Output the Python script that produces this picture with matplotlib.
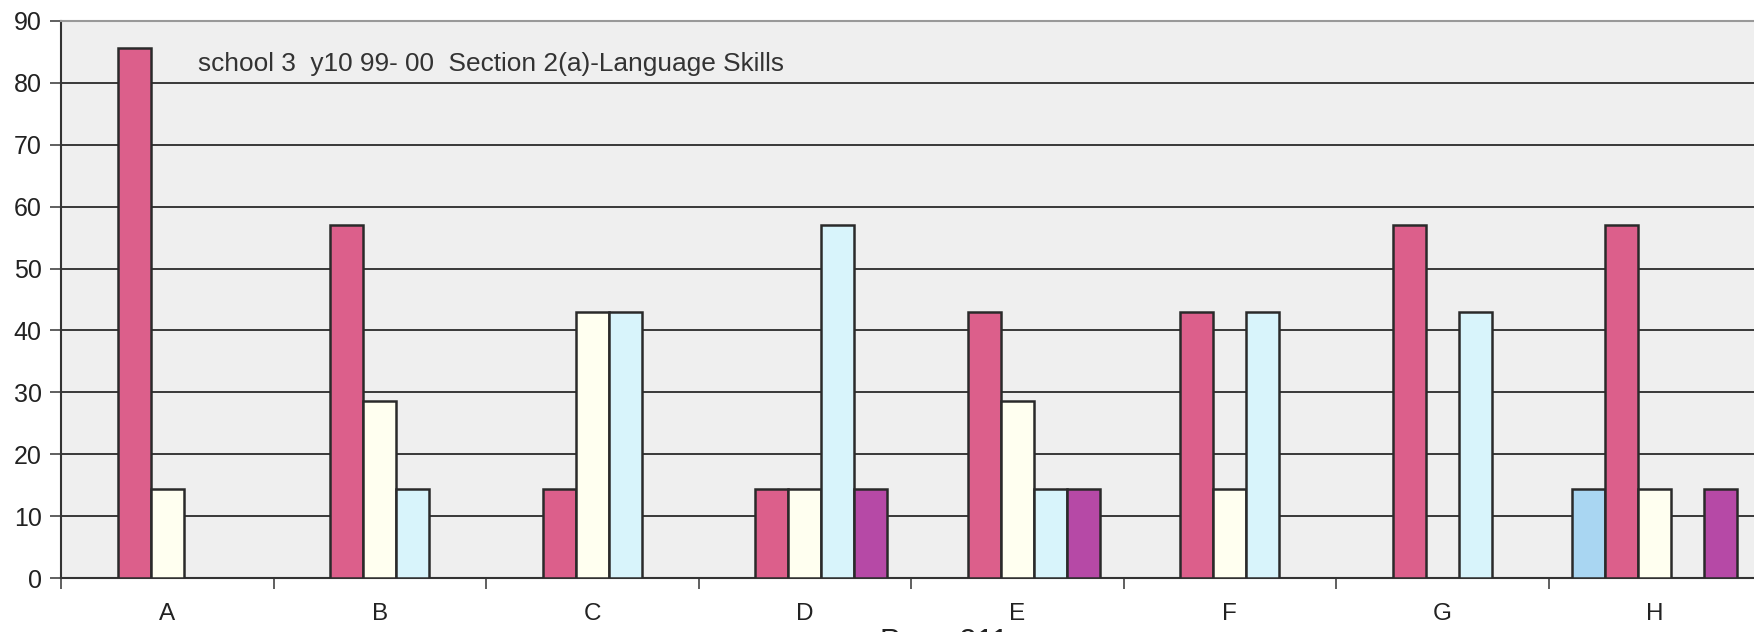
import matplotlib
matplotlib.use("Agg")
import matplotlib.pyplot as plt
import numpy as np

# answers per category, percent of 7 pupils
categories = ["A", "B", "C", "D", "E", "F", "G", "H"]
series_names = ["s1", "s2", "s3", "s4", "s5"]
s1 = [0, 0, 0, 0, 0, 0, 0, 14.3]
s2 = [85.7, 57.1, 14.3, 14.3, 42.9, 42.9, 57.1, 57.1]
s3 = [14.3, 28.6, 42.9, 14.3, 28.6, 14.3, 0, 14.3]
s4 = [0, 14.3, 42.9, 57.1, 14.3, 42.9, 42.9, 0]
s5 = [0, 0, 0, 14.3, 14.3, 0, 0, 14.3]
colors = ["#a9d6f2", "#dc5f8b", "#fffff0", "#d8f4fb", "#b649a6"]

title = "school 3  y10 99- 00  Section 2(a)-Language Skills"

plt.rcParams["font.family"] = ["Liberation Sans", "DejaVu Sans"]

fig = plt.figure(figsize=(17.54, 6.32), dpi=100)
W, H = 1754, 632
# plot area runs off the right edge of the scan
ax = fig.add_axes([61 / W, 1 - 578 / H, 1700 / W, 557 / H])
ax.set_facecolor("#efefef")

x = np.arange(len(categories))
bw = 0.155
for i, vals in enumerate([s1, s2, s3, s4, s5]):
    pos = x + (i - 2) * bw
    vals = np.array(vals)
    keep = vals > 0
    ax.bar(pos[keep], vals[keep], width=bw, color=colors[i],
           edgecolor="#2a2a2a", linewidth=1.8, zorder=3)

ax.set_xlim(-0.5, len(categories) - 0.5)
ax.set_ylim(0, 90)
ax.set_yticks(range(0, 91, 10))
ax.yaxis.grid(True, color="#2a2a2a", linewidth=1.3, zorder=1)
ax.set_axisbelow(True)

# category ticks between groups, labels at centres
ax.set_xticks(np.arange(-0.5, len(categories), 1.0))
ax.set_xticklabels([])
ax.set_xticks(x, minor=True)
ax.set_xticklabels(categories, minor=True)
ax.tick_params(axis="x", which="minor", length=0, pad=18, labelsize=17.5,
               labelcolor="#222")
ax.tick_params(axis="x", which="major", length=8, width=1.2, color="#444")
ax.tick_params(axis="y", length=8, width=1.2, color="#444", labelsize=18,
               pad=6, labelcolor="#222")

for side in ["left", "bottom"]:
    ax.spines[side].set_color("#333")
    ax.spines[side].set_linewidth(1.5)
ax.spines["top"].set_color("#999")
ax.spines["top"].set_linestyle((0, (1, 1)))
ax.spines["top"].set_linewidth(1.5)
ax.spines["right"].set_visible(False)

ax.text(198 / W, 1 - 64 / H, title, transform=fig.transFigure,
        fontsize=18.9, color="#333", va="center", ha="left")

# page number, cut off by the bottom of the scan
fig.text(880 / W, 1 - 628 / H, "Page 311", fontsize=22, color="#222",
         va="top", ha="left")

fig.savefig("out.png", dpi=100)
